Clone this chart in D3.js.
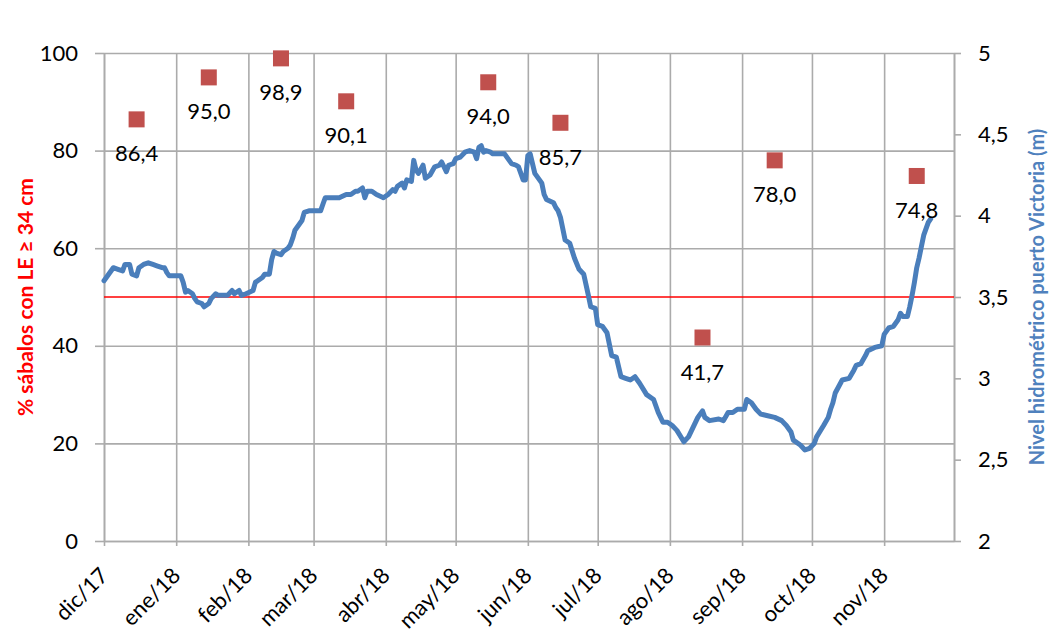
<!DOCTYPE html>
<html>
<head>
<meta charset="utf-8">
<script src="https://cdn.jsdelivr.net/npm/d3@7"></script>
<style>
  body { margin: 0; background: #fff; }
  text { font-family: Lato, "Open Sans", sans-serif; }
</style>
</head>
<body>
<div id="chart"></div>
<script>
// svg parameters
var svgWidth = 1051;
var svgHeight = 634;
var padding = {"top": 53, "bottom": 93, "left": 104, "right": 97};

// % of sabalos with LE >= 34 cm (left axis)
var sampleDates = ["2017-12-15", "2018-01-15", "2018-02-15", "2018-03-15", "2018-05-15",
                   "2018-06-15", "2018-08-15", "2018-09-15", "2018-11-15"];
var samplePct = [86.4, 95.0, 98.9, 90.1, 94.0, 85.7, 41.7, 78.0, 74.8];

// reference line (50 %)
var refPct = 50;

// water level at puerto Victoria, in m (right axis)
var levelDates = [
  "2017-12-01","2017-12-03","2017-12-05","2017-12-07","2017-12-09","2017-12-10","2017-12-12","2017-12-13",
  "2017-12-15","2017-12-16","2017-12-18","2017-12-20","2017-12-22","2017-12-24","2017-12-26","2017-12-27",
  "2017-12-28","2017-12-29","2017-12-31","2018-01-03","2018-01-04","2018-01-05","2018-01-06","2018-01-08",
  "2018-01-09","2018-01-10","2018-01-12","2018-01-13","2018-01-15","2018-01-16","2018-01-18","2018-01-19",
  "2018-01-21","2018-01-23","2018-01-25","2018-01-26","2018-01-28","2018-01-29","2018-01-31","2018-02-03",
  "2018-02-04","2018-02-05","2018-02-07","2018-02-08","2018-02-09","2018-02-10","2018-02-11","2018-02-12",
  "2018-02-13","2018-02-15","2018-02-16","2018-02-18","2018-02-19","2018-02-20","2018-02-21","2018-02-22",
  "2018-02-24","2018-02-25","2018-02-27","2018-03-02","2018-03-04","2018-03-05","2018-03-06","2018-03-08",
  "2018-03-10","2018-03-12","2018-03-15","2018-03-17","2018-03-19","2018-03-20","2018-03-22","2018-03-23",
  "2018-03-24","2018-03-26","2018-03-28","2018-03-31","2018-04-02","2018-04-04","2018-04-05","2018-04-06",
  "2018-04-08","2018-04-09","2018-04-10","2018-04-12","2018-04-13","2018-04-14","2018-04-15","2018-04-17",
  "2018-04-18","2018-04-20","2018-04-22","2018-04-24","2018-04-25","2018-04-27","2018-04-28","2018-04-30",
  "2018-05-01","2018-05-03","2018-05-05","2018-05-07","2018-05-09","2018-05-10","2018-05-11","2018-05-12",
  "2018-05-13","2018-05-14","2018-05-16","2018-05-17","2018-05-19","2018-05-22","2018-05-24","2018-05-25",
  "2018-05-27","2018-05-28","2018-05-30","2018-05-31","2018-06-01","2018-06-02","2018-06-03","2018-06-04",
  "2018-06-06","2018-06-07","2018-06-08","2018-06-09","2018-06-12","2018-06-13","2018-06-14","2018-06-15",
  "2018-06-17","2018-06-19","2018-06-21","2018-06-23","2018-06-25","2018-06-27","2018-06-28","2018-06-30",
  "2018-07-01","2018-07-03","2018-07-05","2018-07-07","2018-07-09","2018-07-11","2018-07-13","2018-07-15",
  "2018-07-17","2018-07-19","2018-07-22","2018-07-25","2018-07-27","2018-07-29","2018-07-31","2018-08-02",
  "2018-08-04","2018-08-07","2018-08-09","2018-08-11","2018-08-13","2018-08-15","2018-08-16","2018-08-18",
  "2018-08-22","2018-08-24","2018-08-26","2018-08-28","2018-08-30","2018-09-02","2018-09-03","2018-09-05",
  "2018-09-07","2018-09-09","2018-09-12","2018-09-15","2018-09-18","2018-09-20","2018-09-22","2018-09-23",
  "2018-09-26","2018-09-28","2018-09-30","2018-10-02","2018-10-03","2018-10-06","2018-10-08","2018-10-09",
  "2018-10-10","2018-10-11","2018-10-14","2018-10-17","2018-10-19","2018-10-20","2018-10-22","2018-10-24",
  "2018-10-25","2018-10-28","2018-10-31","2018-11-01","2018-11-03","2018-11-05","2018-11-07","2018-11-08",
  "2018-11-09","2018-11-11","2018-11-12","2018-11-13","2018-11-14","2018-11-15","2018-11-16","2018-11-17",
  "2018-11-18","2018-11-19","2018-11-20","2018-11-21"
];
var levelValues = [
  3.60, 3.64, 3.68, 3.67, 3.66, 3.70, 3.70, 3.64,
  3.63, 3.68, 3.70, 3.71, 3.70, 3.69, 3.68, 3.68,
  3.65, 3.63, 3.63, 3.63, 3.59, 3.53, 3.54, 3.52,
  3.49, 3.47, 3.46, 3.44, 3.46, 3.49, 3.52, 3.51,
  3.51, 3.51, 3.54, 3.52, 3.54, 3.51, 3.52, 3.54,
  3.59, 3.60, 3.62, 3.64, 3.64, 3.64, 3.73, 3.78,
  3.77, 3.76, 3.78, 3.80, 3.82, 3.86, 3.91, 3.93,
  3.97, 4.02, 4.03, 4.03, 4.03, 4.07, 4.11, 4.11,
  4.11, 4.11, 4.13, 4.13, 4.15, 4.15, 4.17, 4.11,
  4.15, 4.15, 4.13, 4.11, 4.13, 4.16, 4.15, 4.18,
  4.20, 4.17, 4.22, 4.21, 4.34, 4.28, 4.26, 4.31,
  4.23, 4.25, 4.30, 4.31, 4.33, 4.27, 4.31, 4.32,
  4.35, 4.36, 4.39, 4.40, 4.39, 4.35, 4.42, 4.43,
  4.39, 4.40, 4.39, 4.38, 4.38, 4.38, 4.34, 4.32,
  4.31, 4.30, 4.22, 4.22, 4.37, 4.38, 4.32, 4.26,
  4.22, 4.20, 4.13, 4.10, 4.08, 4.05, 4.03, 3.99,
  3.85, 3.83, 3.74, 3.67, 3.64, 3.51, 3.44, 3.43,
  3.33, 3.32, 3.28, 3.14, 3.13, 3.01, 3.00, 2.99,
  3.01, 2.97, 2.90, 2.87, 2.79, 2.73, 2.73, 2.71,
  2.68, 2.61, 2.64, 2.70, 2.76, 2.80, 2.76, 2.74,
  2.75, 2.74, 2.79, 2.79, 2.81, 2.81, 2.87, 2.85,
  2.81, 2.78, 2.77, 2.76, 2.74, 2.71, 2.67, 2.62,
  2.59, 2.56, 2.57, 2.60, 2.64, 2.71, 2.76, 2.81,
  2.85, 2.91, 2.99, 3.00, 3.05, 3.08, 3.09, 3.14,
  3.17, 3.19, 3.20, 3.27, 3.31, 3.32, 3.36, 3.40,
  3.38, 3.38, 3.44, 3.51, 3.59, 3.68, 3.74, 3.81,
  3.88, 3.92, 3.96, 3.98
];

// axis ticks
var pctTicks = [0, 20, 40, 60, 80, 100];
var levelTicks = [2, 2.5, 3, 3.5, 4, 4.5, 5];
var monthNames = ["ene", "feb", "mar", "abr", "may", "jun", "jul", "ago", "sep", "oct", "nov", "dic"];
var xStart = "2017-12-01", xEnd = "2018-12-01";

var parse = d3.utcParse("%Y-%m-%d");
var fmtComma = function(v) { return String(v).replace(".", ","); };

var svg = d3.select("#chart").append("svg")
  .attr("width", svgWidth)
  .attr("height", svgHeight);

var xScale = d3.scaleUtc().domain([parse(xStart), parse(xEnd)])
  .range([padding.left, svgWidth - padding.right]);
var yPct = d3.scaleLinear().domain([0, 100]).range([svgHeight - padding.bottom, padding.top]);
var yLevel = d3.scaleLinear().domain([2, 5]).range([svgHeight - padding.bottom, padding.top]);

var x0 = padding.left, x1 = svgWidth - padding.right;
var yb = svgHeight - padding.bottom;
var gridColor = "#ababab";

var monthTicks = d3.utcMonth.range(parse(xStart), parse(xEnd));

// vertical gridlines (months)
svg.append("g")
  .attr("class", "xGrid")
  .attr("transform", "translate(0 " + yb + ")")
  .call(d3.axisBottom(xScale).tickValues(monthTicks.concat([parse(xEnd)]))
    .tickSize(-(yb - padding.top)).tickFormat(""))
  .call(function(g) { g.select(".domain").remove(); })
  .selectAll("line").attr("stroke", gridColor).attr("stroke-width", 1.6);

// horizontal gridlines
svg.append("g")
  .attr("class", "yGrid")
  .attr("transform", "translate(" + x0 + " 0)")
  .call(d3.axisLeft(yPct).tickValues(pctTicks).tickSize(-(x1 - x0)).tickFormat(""))
  .call(function(g) { g.select(".domain").remove(); })
  .selectAll("line").attr("stroke", gridColor).attr("stroke-width", 1.6);

// left axis
var yAxisL = svg.append("g")
  .attr("class", "yAxisL")
  .attr("transform", "translate(" + x0 + " 0)")
  .call(d3.axisLeft(yPct).tickValues(pctTicks).tickSize(9).tickPadding(17).tickSizeOuter(0));
yAxisL.select(".domain").attr("stroke", gridColor).attr("stroke-width", 1.6);
yAxisL.selectAll("line").attr("stroke", gridColor).attr("stroke-width", 1.6);
yAxisL.selectAll("text").attr("font-size", 22).attr("fill", "#000")
  .style("font-family", "Lato, sans-serif");

// right axis
var yAxisR = svg.append("g")
  .attr("class", "yAxisR")
  .attr("transform", "translate(" + x1 + " 0)")
  .call(d3.axisRight(yLevel).tickValues(levelTicks).tickSize(7).tickPadding(17)
    .tickSizeOuter(0).tickFormat(fmtComma));
yAxisR.select(".domain").attr("stroke", gridColor).attr("stroke-width", 1.6);
yAxisR.selectAll("line").attr("stroke", gridColor).attr("stroke-width", 1.6);
yAxisR.selectAll("text").attr("font-size", 22).attr("fill", "#000")
  .style("font-family", "Lato, sans-serif");

// bottom axis
var xAxis = svg.append("g")
  .attr("class", "xAxis")
  .attr("transform", "translate(0 " + yb + ")")
  .call(d3.axisBottom(xScale).tickValues(monthTicks).tickSize(5).tickSizeOuter(0)
    .tickFormat(function(d) {
      return monthNames[d.getUTCMonth()] + "/" + String(d.getUTCFullYear()).slice(2);
    }));
xAxis.select(".domain").attr("stroke", gridColor).attr("stroke-width", 1.6);
xAxis.selectAll("line").attr("stroke", gridColor).attr("stroke-width", 1.6);
xAxis.selectAll("text")
  .attr("x", 0).attr("y", 0).attr("dy", 0)
  .attr("transform", "translate(5 36) rotate(-45)")
  .attr("text-anchor", "end")
  .attr("font-size", 22).attr("fill", "#000")
  .style("font-family", "Lato, sans-serif");

// 50 % reference line
svg.append("line")
  .attr("x1", x0).attr("x2", x1)
  .attr("y1", yPct(refPct)).attr("y2", yPct(refPct))
  .attr("stroke", "#ff0000")
  .attr("stroke-width", 1.5);

// water level line
var line = d3.line()
  .x(function(d, i) { return xScale(parse(levelDates[i])); })
  .y(function(d) { return yLevel(d); });

svg.append("path")
  .datum(levelValues)
  .attr("d", line)
  .attr("fill", "none")
  .attr("stroke", "#4a7ebb")
  .attr("stroke-width", 5)
  .attr("stroke-linejoin", "round")
  .attr("stroke-linecap", "round");

// sample squares + labels
var sq = 16;
var samples = svg.append("g").attr("class", "samples").selectAll("g")
  .data(samplePct)
  .enter()
  .append("g");

samples.append("rect")
  .attr("x", function(d, i) { return xScale(parse(sampleDates[i])) - sq / 2; })
  .attr("y", function(d) { return yPct(d) - sq / 2; })
  .attr("width", sq)
  .attr("height", sq)
  .attr("fill", "#c0504d");

samples.append("text")
  .attr("x", function(d, i) { return xScale(parse(sampleDates[i])); })
  .attr("y", function(d) { return yPct(d) + 42; })
  .attr("text-anchor", "middle")
  .attr("font-size", 22)
  .attr("fill", "#000")
  .text(function(d) { return d.toFixed(1).replace(".", ","); });

// axis titles
svg.append("text")
  .attr("transform", "translate(33 " + (padding.top + (yb - padding.top) / 2) + ") rotate(-90)")
  .attr("text-anchor", "middle")
  .attr("font-size", 21)
  .attr("font-weight", "bold")
  .attr("fill", "#ff0000")
  .text("% sábalos con LE ≥ 34 cm");

svg.append("text")
  .attr("transform", "translate(1044 " + (padding.top + (yb - padding.top) / 2) + ") rotate(-90)")
  .attr("text-anchor", "middle")
  .attr("font-size", 20)
  .attr("font-weight", "bold")
  .attr("fill", "#4f81bd")
  .text("Nivel hidrométrico puerto Victoria (m)");
</script>
</body>
</html>
